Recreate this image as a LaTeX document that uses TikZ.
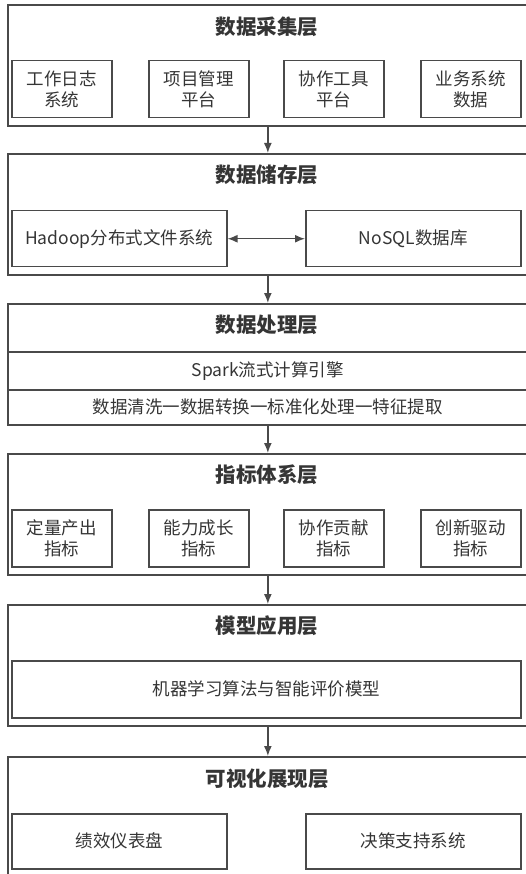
\documentclass[tikz,border=0pt]{standalone}
\usepackage{fontspec}
\setmainfont{Noto Sans CJK SC}
\usetikzlibrary{arrows.meta}
\definecolor{linec}{HTML}{4A4A4A}
\definecolor{textc}{HTML}{353535}
\tikzset{
  outer/.style={draw=linec,line width=1.7pt,rectangle,minimum width=520pt,inner sep=0pt,anchor=north west},
  title/.style={font=\fontsize{20.5}{22}\selectfont\bfseries,text=textc,inner sep=0pt},
  inner/.style={draw=linec,line width=1.5pt,rectangle,inner sep=0pt,anchor=north west,text=textc,font=\fontsize{17.5}{21}\selectfont,align=center},
  row/.style={draw=linec,line width=1.5pt,rectangle,inner sep=0pt,anchor=north west,text=textc,font=\fontsize{17.5}{21}\selectfont,minimum width=520pt},
  arr/.style={draw=linec,line width=1.5pt,-{Latex[length=10pt,width=8pt]}},
  darr/.style={draw=linec,line width=1.5pt,{Latex[length=10pt,width=8pt]}-{Latex[length=10pt,width=8pt]}}
}
\begin{document}
\begin{tikzpicture}[x=1pt,y=-1pt]
\useasboundingbox (0,0) rectangle (526,874);
\clip (0,0) rectangle (526,874);
% Layer 1
\node[outer,minimum height=121pt] (L1) at (7,4) {};
\node[title] (T1) at (267,27) {数据采集层};
\node[inner,minimum width=100pt,minimum height=57pt] (A1) at (11,60) {工作日志\\系统};
\node[inner,minimum width=100pt,minimum height=57pt] (A2) at (148,60) {项目管理\\平台};
\node[inner,minimum width=100pt,minimum height=57pt] (A3) at (283,60) {协作工具\\平台};
\node[inner,minimum width=100pt,minimum height=57pt] (A4) at (420,60) {业务系统\\数据};
% Layer 2
\node[outer,minimum height=121pt] (L2) at (7,153) {};
\node[title] (T2) at (267,175) {数据储存层};
\node[inner,minimum width=215pt,minimum height=56pt] (B1) at (11,210) {Hadoop分布式文件系统};
\node[inner,minimum width=215pt,minimum height=56pt] (B2) at (305,210) {NoSQL数据库};
\draw[darr] (B1.east) -- (B2.west);
% Layer 3
\node[outer,minimum height=121pt] (L3) at (7,303) {};
\node[title] (T3) at (267,325) {数据处理层};
\node[row,minimum height=38pt] (C1) at (7,351) {Spark流式计算引擎};
\node[row,minimum height=35pt] (C2) at (7,389) {数据清洗一数据转换一标准化处理一特征提取};
% Layer 4
\node[outer,minimum height=121pt] (L4) at (7,453) {};
\node[title] (T4) at (267,475) {指标体系层};
\node[inner,minimum width=100pt,minimum height=57pt] (D1) at (11,509) {定量产出\\指标};
\node[inner,minimum width=100pt,minimum height=57pt] (D2) at (148,509) {能力成长\\指标};
\node[inner,minimum width=100pt,minimum height=57pt] (D3) at (283,509) {协作贡献\\指标};
\node[inner,minimum width=100pt,minimum height=57pt] (D4) at (420,509) {创新驱动\\指标};
% Layer 5
\node[outer,minimum height=121pt] (L5) at (7,604) {};
\node[title] (T5) at (267,626) {模型应用层};
\node[inner,minimum width=509pt,minimum height=57pt] (E1) at (11,660) {机器学习算法与智能评价模型};
% Layer 6
\node[outer,minimum height=125pt] (L6) at (7,756) {};
\node[title] (T6) at (267,779) {可视化展现层};
\node[inner,minimum width=215pt,minimum height=55pt] (F1) at (11,813) {绩效仪表盘};
\node[inner,minimum width=215pt,minimum height=55pt] (F2) at (305,813) {决策支持系统};
% arrows
\draw[arr] (L1.south) -- (L2.north);
\draw[arr] (L2.south) -- (L3.north);
\draw[arr] (L3.south) -- (L4.north);
\draw[arr] (L4.south) -- (L5.north);
\draw[arr] (L5.south) -- (L6.north);
\end{tikzpicture}
\end{document}
